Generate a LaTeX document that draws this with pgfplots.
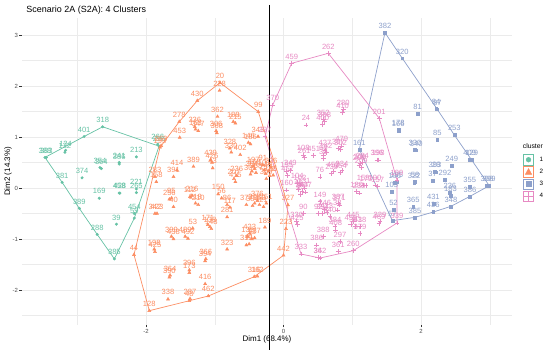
\documentclass[border=0pt]{standalone}
\usepackage{fontspec}
\setmainfont{Liberation Sans}
\usepackage{pgfplots}
\usepackage{pgfplotstable}
\pgfplotsset{compat=1.18}
\definecolor{c1}{HTML}{66C2A5}
\definecolor{c2}{HTML}{FC8D62}
\definecolor{c3}{HTML}{8DA0CB}
\definecolor{c4}{HTML}{E78AC3}
\definecolor{gridc}{HTML}{EBEBEB}
\definecolor{txt}{HTML}{4D4D4D}

\pgfplotstableread{
x y lab
-2.63 1.20 318
-1.81 0.82 296
-1.83 0.86 266
-2.17 -0.59 59
-2.17 -0.50 454
-2.46 -1.39 385
-2.71 -0.91 288
-2.97 -0.40 389
-3.22 0.11 381
-3.47 0.60 388
-3.45 0.60 383
-2.90 1.01 401
-3.18 0.70 122
-3.17 0.74 124
-2.93 0.20 374
-2.67 0.40 354
-2.65 0.38 364
-2.39 0.50 241
-2.39 0.47 386
-2.14 0.61 213
-2.68 -0.20 169
-2.39 -0.10 458
-2.38 -0.10 428
-2.14 -0.09 265
-2.14 -0.02 221
-2.43 -0.71 39
}\greenpts

\pgfplotstableread{
x y lab
-0.924 2.065 20
-0.93 1.91 228
-1.254 1.712 430
-1.516 1.300 278
-1.796 0.798 193
-1.78 0.83 263
-0.367 1.496 99
0.065 -0.333 327
0.036 -0.800 223
0.000 -1.320 442
-0.425 -1.739 316
-0.38 -1.73 162
-1.094 -2.118 462
-1.370 -2.210 48
-1.36 -2.17 287
-1.68 -2.18 338
-1.952 -2.406 128
-2.175 -1.308 44
-1.14 -1.88 416
-0.96 1.40 362
-1.29 1.20 336
-1.28 1.15 163
-1.51 0.99 453
-1.24 1.12 347
-0.98 1.12 306
-0.97 1.08 368
-0.73 1.30 188
-0.70 1.27 215
-0.78 0.78 328
-0.76 0.70 330
-0.63 0.65 402
-0.51 0.89 146
-0.48 0.86 186
-0.37 1.01 343
-1.55 0.35 414
-1.31 0.42 389
-1.60 0.22 391
-1.03 0.39 43
-1.04 0.50 426
-1.06 0.55 439
-1.87 0.22 283
-1.85 0.12 158
-0.26 0.28 257
-0.22 0.33 14
-0.20 0.24 372
-0.28 0.35 101
-0.18 0.40 226
-0.25 0.18 309
-0.15 0.25 65
-0.30 0.45 91
-0.46 0.33 304
-0.42 0.38 168
-0.40 0.30 258
-0.48 0.27 301
-0.44 0.42 197
-0.72 0.18 207
-0.68 0.24 236
-0.70 0.12 415
-0.42 -0.30 378
-0.38 -0.25 376
-0.35 -0.33 363
-0.45 -0.35 384
-0.82 -0.33 86
-0.78 -0.38 117
-0.29 -0.37 21
-0.25 -0.30 251
-0.54 -0.33 377
-1.36 -0.17 112
-1.33 -0.15 216
-1.63 -0.20 95
-1.66 -0.22 256
-1.60 -0.37 40
-1.87 -0.50 342
-1.84 -0.50 423
-1.24 -0.33 210
-1.28 -0.30 218
-0.90 -0.20 56
-0.95 -0.12 150
-0.82 -0.57 281
-1.32 -0.79 53
-1.07 -0.76 138
-1.10 -0.72 171
-1.05 -0.80 148
-1.63 -0.95 399
-1.60 -1.00 438
-1.39 -0.99 492
-1.43 -0.95 489
-1.88 -1.20 198
-1.87 -1.25 425
-1.13 -1.39 366
-1.14 -1.43 394
-0.82 -1.20 323
-0.49 -0.89 423
-0.52 -0.95 135
-0.46 -1.00 13
-0.54 -1.12 319
-0.50 -1.10 41
-0.42 -0.98 437
-0.27 -0.77 189
-1.37 -1.61 396
-1.37 -1.66 173
-1.65 -1.71 364
-1.66 -1.75 390
}\orangepts

\pgfplotstableread{
x y lab
1.476 3.045 382
1.728 2.543 320
2.237 1.543 87
2.22 1.56 84
2.485 1.039 253
2.737 0.549 129
2.71 0.55 409
2.993 0.045 399
2.96 0.05 398
2.713 -0.163 386
2.436 -0.359 348
2.179 -0.471 436
1.913 -0.575 385
1.583 -0.641 57
1.103 0.758 161
1.952 1.451 81
1.670 1.150 178
1.67 1.12 166
2.237 0.941 85
1.913 0.745 330
1.93 0.74 340
2.447 0.438 249
2.204 0.320 393
2.22 0.31 28
1.913 0.124 58
1.90 0.10 322
2.170 0.143 37
2.349 0.157 292
1.646 0.124 195
1.62 0.10 196
1.574 -0.065 105
2.42 -0.098 236
2.43 -0.15 183
2.71 0.03 355
1.888 -0.36 365
2.18 -0.31 431
1.60 -0.42 52
}\bluepts

\pgfplotstableread{
x y lab
0.119 2.445 459
0.652 2.641 262
1.393 1.367 201
1.651 0.157 199
1.651 -0.686 339
1.015 -1.229 260
0.531 -1.373 342
0.50 -1.36 36
0.255 -1.294 333
-0.269 1.006 397
-0.157 1.627 370
0.579 1.347 352
0.60 1.30 388
0.57 1.25 400
0.870 1.543 280
0.86 1.48 410
0.327 1.235 24
0.847 0.824 479
0.83 0.76 302
0.80 0.78 307
0.604 0.745 427
0.62 0.70 142
0.288 0.647 108
0.30 0.60 261
0.579 0.647 68
0.58 0.58 30
0.44 0.64 451
0.047 0.320 155
0.06 0.25 457
1.379 0.549 198
1.36 0.55 396
1.113 0.484 200
1.10 0.45 208
1.15 0.50 204
1.13 0.40 209
0.724 0.320 452
0.70 0.28 235
0.85 0.34 334
0.83 0.30 354
1.160 0.059 159
1.20 0.05 173
1.33 0.06 190
1.37 0.03 157
0.24 0.06 102
0.20 0.10 104
0.53 0.22 76
0.531 -0.268 149
0.797 -0.300 387
0.81 -0.33 371
0.783 -0.431 38
0.288 -0.497 90
0.506 -0.497 92
0.676 -0.562 440
0.192 -0.660 330
0.20 -0.72 425
0.749 -0.758 384
0.76 -0.82 408
1.015 -0.660 445
1.113 -0.758 418
1.113 -0.889 379
1.404 -0.660 329
1.39 -0.70 469
0.579 -0.954 388
0.822 -1.052 297
0.483 -1.118 386
0.797 -1.248 361
1.065 -0.072 180
1.10 -0.10 233
0.047 -0.04 160
0.22 -0.03 46
0.27 -0.07 244
0.30 0.00 131
0.25 -0.12 63
0.32 -0.08 407
0.60 -0.42 246
0.63 -0.48 413
0.57 -0.50 394
0.98 -0.72 456
1.05 -0.75 353
0.10 0.35 349
}\pinkpts

\begin{document}
\begin{tikzpicture}
\path[use as bounding box] (0,0) rectangle (550bp,356bp);
\begin{axis}[
  at={(22bp,31bp)}, anchor=south west,
  width=490bp, height=307bp, scale only axis,
  xmin=-3.804, xmax=3.324, ymin=-2.686, ymax=3.333,
  clip=false,
  axis line style={draw=none},
  xtick={-2,0,2}, ytick={-2,-1,0,1,2,3},
  minor xtick={-3,-1,1,3},
  minor ytick={-2.5,-1.5,-0.5,0.5,1.5,2.5},
  grid=both,
  major grid style={gridc, line width=0.75bp},
  minor grid style={gridc, line width=0.4bp},
  tick pos=left, tick align=outside,
  major tick length=2.5bp, minor tick length=0bp,
  major tick style={black!80, line width=0.5bp},
  /pgf/number format/assume math mode=true,
  tick label style={font=\fontsize{6}{6}\selectfont, text=txt},
  xticklabel style={yshift=2bp},
  yticklabel style={xshift=2bp},
  xlabel={Dim1 (68.4\%)},
  ylabel={Dim2 (14.3\%)},
  xlabel style={font=\fontsize{8}{8}\selectfont, at={(axis description cs:0.5,-0.046)}, anchor=center},
  ylabel style={font=\fontsize{8}{8}\selectfont, at={(axis description cs:-0.0286,0.5)}, anchor=center},
  title={Scenario 2A (S2A): 4 Clusters},
  title style={font=\fontsize{9}{9}\selectfont, at={(axis description cs:0.002,1.026)}, anchor=west, yshift=-6pt},
  point meta=explicit symbolic,
  nodes near coords,
  every node near coord/.append style={font=\fontsize{7.6}{8}\selectfont, anchor=base, yshift=4.2bp, inner sep=0pt},
  legend style={at={(axis description cs:1.0218,0.557)}, anchor=north west, draw=none, fill=none,
    inner sep=0pt, row sep=1.1bp, font=\fontsize{6.3}{6.3}\selectfont,
    nodes={inner sep=0pt, text=black}},
  legend cell align=left,
  /tikz/every odd column/.append style={column sep=5.5bp},
]
% hulls
\addplot[c1, line width=0.7bp, forget plot, nodes near coords={}, no markers] coordinates {
(-2.63,1.20) (-1.81,0.82) (-2.17,-0.59) (-2.46,-1.39) (-2.71,-0.91) (-2.97,-0.40) (-3.22,0.11) (-3.47,0.60) (-2.90,1.01) (-2.63,1.20)};
\addplot[c2, line width=0.7bp, forget plot, nodes near coords={}, no markers] coordinates {
(-0.924,2.065) (-0.367,1.496) (0.065,-0.333) (0.036,-0.800) (0.000,-1.320) (-0.425,-1.739) (-1.094,-2.118) (-1.370,-2.210) (-1.952,-2.406) (-2.175,-1.308) (-1.796,0.798) (-1.516,1.300) (-1.254,1.712) (-0.924,2.065)};
\addplot[c3, line width=0.7bp, forget plot, nodes near coords={}, no markers] coordinates {
(1.476,3.045) (1.728,2.543) (2.237,1.543) (2.485,1.039) (2.737,0.549) (2.993,0.045) (2.713,-0.163) (2.436,-0.359) (2.179,-0.471) (1.913,-0.575) (1.583,-0.641) (1.103,0.758) (1.476,3.045)};
\addplot[c4, line width=0.7bp, forget plot, nodes near coords={}, no markers] coordinates {
(0.119,2.445) (0.652,2.641) (1.393,1.367) (1.651,0.157) (1.651,-0.686) (1.015,-1.229) (0.531,-1.373) (0.255,-1.294) (-0.269,1.006) (-0.157,1.627) (0.119,2.445)};
% points
\addplot[only marks, c1, mark=*, mark size=1.3bp,
  legend image code/.code={\draw[c1, line width=0.7bp, fill=white] (0bp,-5.2bp) rectangle (10.6bp,5.2bp); \fill[c1] (5.3bp,0bp) circle (2.4bp);}]
  table[x=x, y=y, meta=lab] {\greenpts};
\addlegendentry{1}
\addplot[only marks, c2, mark=triangle*, mark size=1.8bp,
  legend image code/.code={\draw[c2, line width=0.7bp, fill=white] (0bp,-5.2bp) rectangle (10.6bp,5.2bp); \fill[c2] (5.3bp,3.4bp) -- (2.1bp,-2.4bp) -- (8.5bp,-2.4bp) -- cycle;}]
  table[x=x, y=y, meta=lab] {\orangepts};
\addlegendentry{2}
\addplot[only marks, c3, mark=square*, mark size=1.4bp,
  legend image code/.code={\draw[c3, line width=0.7bp, fill=white] (0bp,-5.2bp) rectangle (10.6bp,5.2bp); \fill[c3] (2.8bp,-2.5bp) rectangle (7.8bp,2.5bp);}]
  table[x=x, y=y, meta=lab] {\bluepts};
\addlegendentry{3}
\addplot[only marks, c4, mark=+, mark size=2.4bp, mark options={line width=0.5bp},
  legend image code/.code={\draw[c4, line width=0.7bp, fill=white] (0bp,-5.2bp) rectangle (10.6bp,5.2bp); \draw[c4, line width=0.6bp] (5.3bp,-5.2bp) -- (5.3bp,5.2bp) (0bp,0bp) -- (10.6bp,0bp);}]
  table[x=x, y=y, meta=lab] {\pinkpts};
\addlegendentry{4}
% vertical reference line
\addplot[black, line width=1.5bp, forget plot, nodes near coords={}, no markers] coordinates {(-0.204,3.59) (-0.204,-3.18)};
\node[anchor=west, font=\fontsize{6.8}{7}\selectfont, inner sep=0pt] at (axis description cs:1.0218,0.583) {cluster};
\end{axis}
\end{tikzpicture}
\end{document}
